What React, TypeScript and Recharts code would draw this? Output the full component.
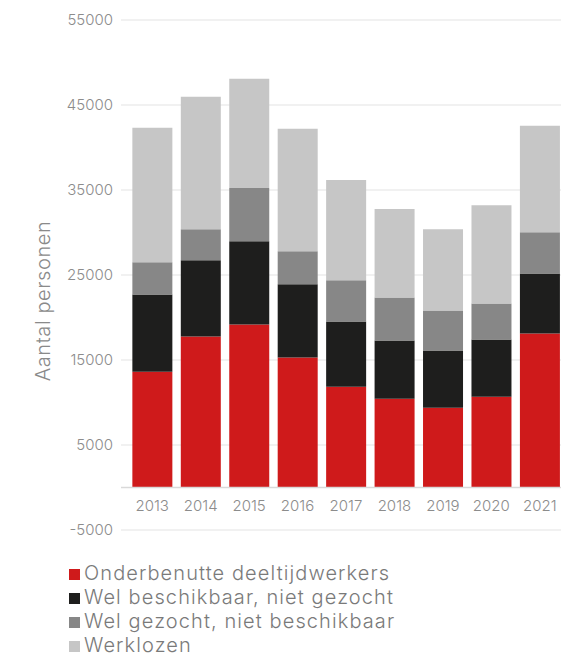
import React from 'react';
import { BarChart, Bar, XAxis, YAxis, CartesianGrid, Legend, ReferenceLine } from 'recharts';

const years = ['2013', '2014', '2015', '2016', '2017', '2018', '2019', '2020', '2021'];
const onderbenut = [13630, 17760, 19170, 15290, 11850, 10450, 9370, 10670, 18110];
const beschikbaar = [9090, 8980, 9810, 8610, 7680, 6840, 6740, 6740, 7080];
const gezocht = [3770, 3650, 6260, 3890, 4840, 5070, 4720, 4240, 4850];
const werklozen = [15830, 15580, 12860, 14410, 11800, 10400, 9560, 11570, 12510];
const yTicks = [-5000, 5000, 15000, 25000, 35000, 45000, 55000];

const data = years.map((year, i) => ({
  year,
  onderbenut: onderbenut[i],
  beschikbaar: beschikbaar[i],
  gezocht: gezocht[i],
  werklozen: werklozen[i],
}));

const FONT = 'Inter, "Open Sans", sans-serif';
const TICK_COLOR = '#8c8c8c';

const AxisTitle = ({ viewBox }: any) => {
  const cx = 43;
  const cy = viewBox ? viewBox.y + viewBox.height / 2 + 26 : 300;
  return (
    <text
      x={cx}
      y={cy}
      transform={`rotate(-90 ${cx} ${cy})`}
      textAnchor="middle"
      dominantBaseline="central"
      fill="#8a8a8a"
      fontSize={20}
      fontWeight={300}
      fontFamily={FONT}
      letterSpacing={0.6}
    >
      Aantal personen
    </text>
  );
};

export default function App() {
  return (
    <div style={{ position: 'absolute', left: 0, top: 0, width: 561, height: 654, overflow: 'hidden', background: '#fff' }}>
      <BarChart
        width={564}
        height={654}
        data={data}
        margin={{ top: 20, right: 0, bottom: 4, left: 0 }}
        barCategoryGap="9%"
        style={{ fontFamily: FONT, fontWeight: 300 }}
      >
        <CartesianGrid vertical={false} stroke="#e3e3e3" />
        <XAxis
          dataKey="year"
          axisLine={false}
          tickLine={false}
          height={24}
          padding={{ left: 7, right: 0 }}
          tick={{ fill: TICK_COLOR, fontSize: 15, dy: -38 }}
          interval={0}
        />
        <YAxis
          type="number"
          domain={[-5000, 55000]}
          ticks={yTicks}
          width={121}
          axisLine={false}
          tickLine={false}
          tick={{ fill: TICK_COLOR, fontSize: 15 }}
          label={<AxisTitle />}
        />
        <ReferenceLine y={0} stroke="#d9d9d9" strokeWidth={1.5} />
        <Legend
          layout="horizontal"
          align="left"
          verticalAlign="bottom"
          iconType="square"
          iconSize={11}
          width={380}
          wrapperStyle={{ left: 69, top: 561, fontSize: 20, lineHeight: '24px', letterSpacing: '1.1px', color: '#7a7a7a' }}
          formatter={(value) => <span style={{ color: '#7a7a7a' }}>{value}</span>}
        />
        <Bar dataKey="onderbenut" name="Onderbenutte deeltijdwerkers" stackId="a" fill="#cf1a1b" isAnimationActive={false} />
        <Bar dataKey="beschikbaar" name="Wel beschikbaar, niet gezocht" stackId="a" fill="#1e1e1d" isAnimationActive={false} />
        <Bar dataKey="gezocht" name="Wel gezocht, niet beschikbaar" stackId="a" fill="#878787" isAnimationActive={false} />
        <Bar dataKey="werklozen" name="Werklozen" stackId="a" fill="#c6c6c6" isAnimationActive={false} />
      </BarChart>
    </div>
  );
}
